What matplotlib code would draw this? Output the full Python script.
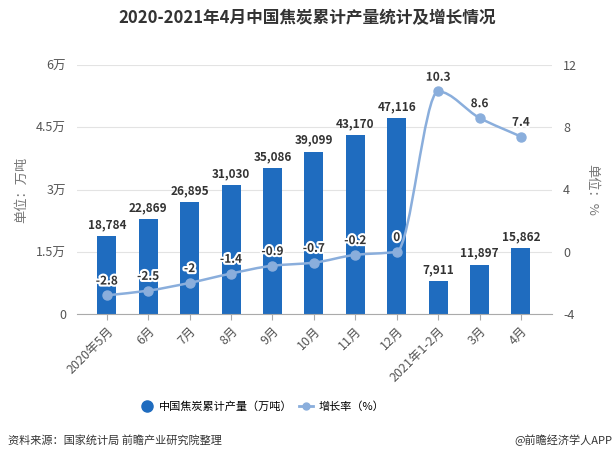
import numpy as np
import matplotlib.pyplot as plt
import matplotlib.patheffects as pe
from matplotlib.path import Path
from matplotlib.patches import PathPatch
from matplotlib.lines import Line2D

plt.rcParams['font.family'] = ['Noto Sans CJK SC', 'DejaVu Sans']

months = ['2020年5月', '6月', '7月', '8月', '9月', '10月', '11月', '12月',
          '2021年1-2月', '3月', '4月']
output = [18784, 22869, 26895, 31030, 35086, 39099, 43170, 47116, 7911, 11897, 15862]
growth = [-2.8, -2.5, -2, -1.4, -0.9, -0.7, -0.2, 0, 10.3, 8.6, 7.4]

bar_color = '#1f6cbf'
line_color = '#8aaedc'

fig = plt.figure(figsize=(6.15, 4.62), dpi=100)
ax = fig.add_axes([77/615, 1-314/462, (552-77)/615, (314-65)/462])
ax2 = ax.twinx()

x = np.arange(len(months))
ax.bar(x, output, width=0.46, color=bar_color, zorder=2)
for xi, v in zip(x, output):
    ax.text(xi, v + 1200, f'{v:,}', ha='center', va='bottom', fontsize=8.5,
            fontweight='bold', color='#333333')

ax.set_xlim(-0.72, 10.75)
ax.set_ylim(0, 60000)
ax.set_yticks([0, 15000, 30000, 45000, 60000])
ax.set_yticklabels(['0', '1.5万', '3万', '4.5万', '6万'], fontsize=9, color='#555555')
ax.grid(axis='y', color='#e3e3e3', linewidth=0.8, zorder=0)
ax.set_axisbelow(True)
ax.set_xticks(x)
ax.set_xticklabels(months, rotation=45, ha='right', rotation_mode='anchor',
                   fontsize=9, color='#555555')
ax.tick_params(axis='x', length=4, color='#aaaaaa')
ax.tick_params(axis='y', length=0, pad=8)
for s in ['top', 'right', 'left']:
    ax.spines[s].set_visible(False)
ax.spines['bottom'].set_color('#aaaaaa')
ax.set_ylabel('单位：万吨', fontsize=9.5, color='#777777', labelpad=6)

ax2.set_ylim(-4, 12)
ax2.set_yticks([-4, 0, 4, 8, 12])
ax2.set_yticklabels(['-4', '0', '4', '8', '12'], fontsize=9, color='#555555')
ax2.tick_params(axis='y', length=0, pad=8)
for s in ['top', 'right', 'left', 'bottom']:
    ax2.spines[s].set_visible(False)
ax2.set_ylabel('单位：%', fontsize=9.5, color='#777777', rotation=270, labelpad=15)

# monotone cubic curve through the points, drawn as bezier path
xs = x.astype(float)
ys = np.array(growth, dtype=float)
d = np.diff(ys) / np.diff(xs)
m = np.zeros_like(ys)
m[0], m[-1] = d[0], d[-1]
for i in range(1, len(ys) - 1):
    if d[i - 1] * d[i] <= 0:
        m[i] = 0
    else:
        m[i] = 2 / (1 / d[i - 1] + 1 / d[i])
verts = [(xs[0], ys[0])]
codes = [Path.MOVETO]
for i in range(len(xs) - 1):
    h = xs[i + 1] - xs[i]
    verts += [(xs[i] + h / 3, ys[i] + m[i] * h / 3),
              (xs[i + 1] - h / 3, ys[i + 1] - m[i + 1] * h / 3),
              (xs[i + 1], ys[i + 1])]
    codes += [Path.CURVE4] * 3
ax2.add_patch(PathPatch(Path(verts, codes), facecolor='none', edgecolor=line_color,
                        linewidth=1.8, zorder=3))
ax2.plot(x, growth, 'o', color=line_color, markersize=6.5, zorder=4)
for xi, v in zip(x, growth):
    ax2.text(xi, v + 0.5, f'{v:g}', ha='center', va='bottom', fontsize=8.5,
             fontweight='bold', color='#333333', zorder=5,
             path_effects=[pe.withStroke(linewidth=3, foreground='white')])

fig.text(0.5, 1-18/462, '2020-2021年4月中国焦炭累计产量统计及增长情况', ha='center',
         va='center', fontsize=12, fontweight='bold', color='#333333')

handles = [Line2D([], [], marker='o', color=bar_color, linestyle='none', markersize=8),
           Line2D([], [], marker='o', color=line_color, linewidth=2, markersize=5)]
fig.legend(handles, ['中国焦炭累计产量（万吨）', '增长率（%）'], loc='center',
           bbox_to_anchor=(262/615, 1-407/462), ncol=2, frameon=False, fontsize=8,
           handlelength=1.2, handletextpad=0.5, columnspacing=0.6)

fig.text(8/615, 1-440/462, '资料来源：国家统计局 前瞻产业研究院整理', fontsize=8,
         va='center', color='#333333')
fig.text(612/615, 1-440/462, '@前瞻经济学人APP', fontsize=8, va='center', ha='right',
         color='#333333')

fig.savefig('out.png', dpi=100)
